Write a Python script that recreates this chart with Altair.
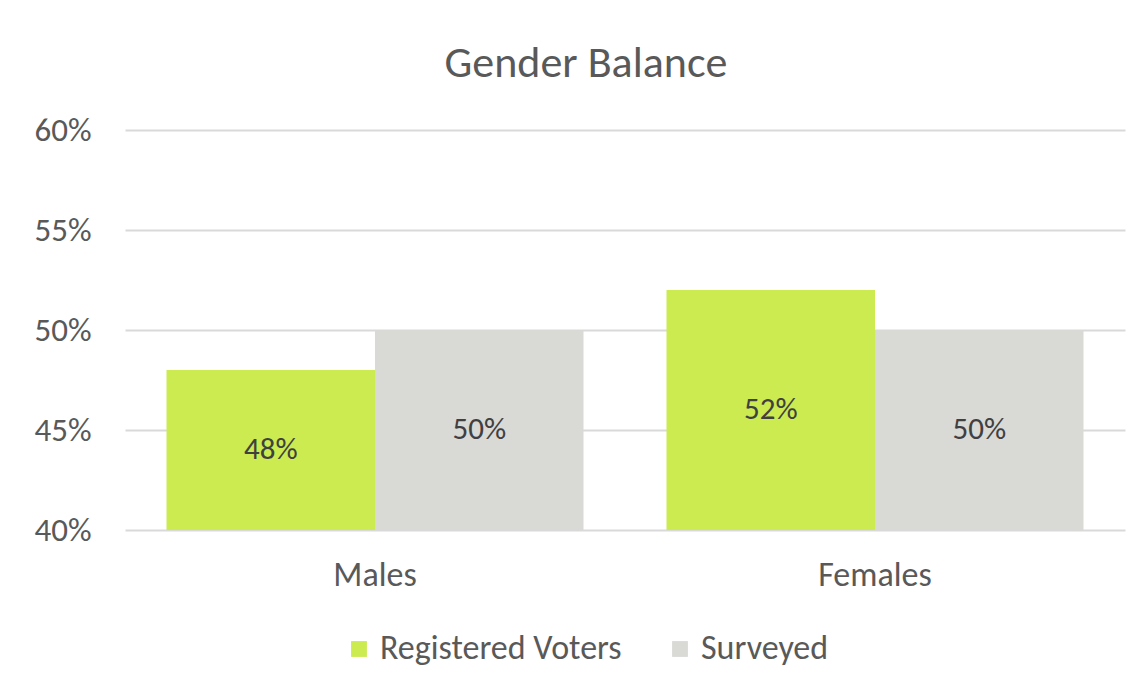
import altair as alt
import pandas as pd

categories = ["Males", "Females"]
series = ["Registered Voters", "Surveyed"]
registered = [0.48, 0.52]
surveyed = [0.50, 0.50]
colors = ["#CBEB51", "#D9D9D6"]
y_ticks = [0.40, 0.45, 0.50, 0.55, 0.60]

rows = []
for i, c in enumerate(categories):
    rows.append({"Category": c, "Series": series[0], "value": registered[i]})
    rows.append({"Category": c, "Series": series[1], "value": surveyed[i]})
df = pd.DataFrame(rows)

FONT = "Carlito, Calibri, Lato, sans-serif"
TXT = "#595959"

x_enc = alt.X("Category:N", sort=categories, title=None,
              scale=alt.Scale(paddingInner=0.166, paddingOuter=0.083),
              axis=alt.Axis(labelAngle=0, labelFontSize=34, labelColor=TXT,
                            labelFont=FONT, labelPadding=28, ticks=False,
                            domain=False))
xo_enc = alt.XOffset("Series:N", sort=series,
                     scale=alt.Scale(paddingInner=0, paddingOuter=0))
y_scale = alt.Scale(domain=[0.40, 0.60], zero=False, nice=False)

bars = alt.Chart(df).mark_bar().encode(
    x=x_enc,
    xOffset=xo_enc,
    y=alt.Y("value:Q", scale=y_scale, title=None,
            axis=alt.Axis(values=y_ticks, format=".0%", labelFontSize=33,
                          labelColor=TXT, labelFont=FONT, labelPadding=34,
                          ticks=False, domain=False, grid=True,
                          gridColor="#D9D9D9", gridWidth=2)),
    y2=alt.datum(0.40),
    color=alt.Color("Series:N", sort=series,
                    scale=alt.Scale(domain=series, range=colors),
                    legend=alt.Legend(title=None, orient="none",
                                      direction="horizontal",
                                      legendX=217, legendY=502,
                                      symbolType="square", symbolSize=250,
                                      symbolStrokeWidth=0,
                                      labelFontSize=34, labelColor=TXT,
                                      labelFont=FONT, columnPadding=41,
                                      labelOffset=4, labelLimit=0)),
)

labels = alt.Chart(df).transform_calculate(
    mid="(datum.value + 0.40) / 2"
).mark_text(fontSize=31, color="#404040", font=FONT, baseline="middle").encode(
    x=alt.X("Category:N", sort=categories),
    xOffset=alt.XOffset("Series:N", sort=series),
    y=alt.Y("mid:Q", scale=y_scale),
    text=alt.Text("value:Q", format=".0%"),
)

chart = alt.layer(bars, labels).properties(
    width=1000, height=400,
    title=alt.TitleParams("Gender Balance", fontSize=44, font=FONT,
                          color=TXT, fontWeight="normal", anchor="middle",
                          dx=-39, offset=28),
    autosize=alt.AutoSizeParams(type="none"),
    padding={"left": 117, "top": 122, "right": 11, "bottom": 154},
).configure(background="white").configure_view(stroke=None)

chart.save("out.html", embed_options={"renderer": "svg", "actions": False})
